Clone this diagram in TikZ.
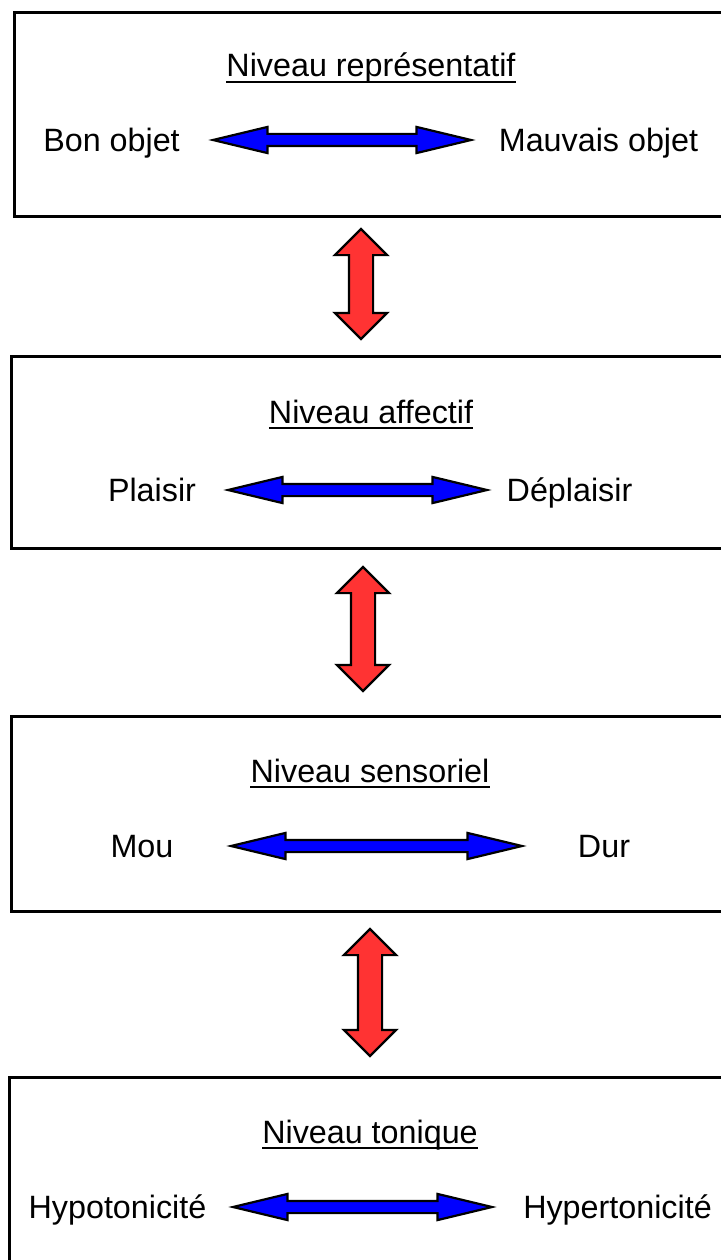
\documentclass[tikz,border=0pt]{standalone}
\usepackage{fontspec}
\setmainfont{Liberation Sans}
\usetikzlibrary{shapes.arrows,positioning}
\definecolor{flecheBleue}{RGB}{0,0,255}
\definecolor{flecheRouge}{RGB}{255,51,51}
\begin{document}
\begin{tikzpicture}[x=1pt,y=-1pt,
	niveau/.style={draw,line width=2.7pt,anchor=north west,inner sep=0pt},
	mot/.style={anchor=base,inner sep=0pt,font=\fontsize{32.3}{38}\selectfont},
	horiz/.style={double arrow,draw,line width=2.2pt,fill=flecheBleue,inner xsep=0pt,inner ysep=5pt,minimum width=24pt,double arrow head extend=7pt,double arrow tip angle=27},
	vert/.style={double arrow,draw,line width=2.2pt,fill=flecheRouge,rotate=90,inner xsep=0pt,inner ysep=11pt,minimum width=50pt,double arrow head extend=14pt,double arrow tip angle=90},
	souligne/.style={line width=2pt}]
	\useasboundingbox (0,0) rectangle (720,1260);

	\node[niveau,minimum width=722pt,minimum height=204pt] (box1) at (13,11) {};
	\node[niveau,minimum width=725pt,minimum height=192pt] (box2) at (10,355) {};
	\node[niveau,minimum width=725pt,minimum height=195pt] (box3) at (10,715) {};
	\node[niveau,minimum width=727pt,minimum height=200pt] (box4) at (8,1076) {};

	\node[mot] (T1) at (371,77) {Niveau représentatif};
	\node[mot] (T2) at (371,423) {Niveau affectif};
	\node[mot] (T3) at (370,782) {Niveau sensoriel};
	\node[mot] (T4) at (370,1143) {Niveau tonique};
	\foreach \t in {T1,T2,T3,T4}
		\draw[souligne] ([yshift=-5pt]\t.base west) -- ([yshift=-5pt]\t.base east);

	\node[mot] (L1) at (111.5,152) {Bon objet};
	\node[mot] (R1) at (598.5,152) {Mauvais objet};
	\node[mot] (L2) at (152,501) {Plaisir};
	\node[mot] (R2) at (569.5,501) {Déplaisir};
	\node[mot] (L3) at (142,857) {Mou};
	\node[mot] (R3) at (604,857) {Dur};
	\node[mot] (L4) at (117.5,1218) {Hypotonicité};
	\node[mot] (R4) at (617.5,1218) {Hypertonicité};

	\node[horiz,minimum height=258pt] (H1) at (342,140) {};
	\node[horiz,minimum height=259pt] (H2) at (357.5,490) {};
	\node[horiz,minimum height=291pt] (H3) at (376.5,846) {};
	\node[horiz,minimum height=259pt] (H4) at (362.5,1207) {};

	\node[vert,minimum height=110pt] (V1) at (361,284) {};
	\node[vert,minimum height=124pt] (V2) at (363,629) {};
	\node[vert,minimum height=127pt] (V3) at (370,992.5) {};
\end{tikzpicture}
\end{document}
